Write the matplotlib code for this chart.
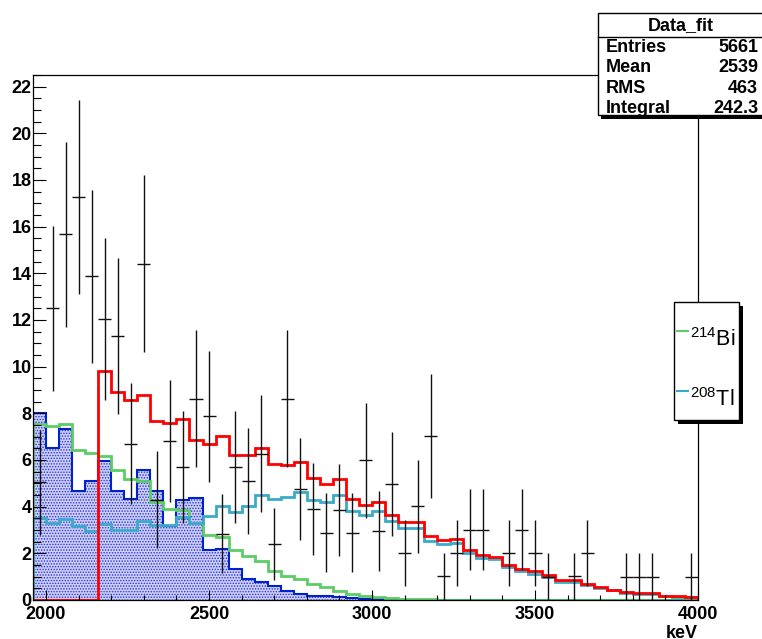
import numpy as np
import matplotlib
matplotlib.use("Agg")
import matplotlib.pyplot as plt
from matplotlib.patches import Rectangle
from matplotlib.lines import Line2D
from matplotlib.ticker import MultipleLocator

plt.rcParams['font.family'] = ['Liberation Sans', 'DejaVu Sans']
plt.rcParams['font.weight'] = 'bold'
plt.rcParams['mathtext.default'] = 'regular'
plt.rcParams['hatch.linewidth'] = 0.7

# binning: 40 keV bins from 1960 to 4000 keV
edges = np.arange(1960, 4001, 40)

# measured counts per bin (0 = empty bin)
data = [5.05, 12.5, 15.67, 17.28, 13.87, 12.04, 11.31, 6.7, 14.41, 4.3,
        6.83, 5.69, 8.62, 7.87, 2.84, 5.69, 5.1, 6.27, 2.4, 8.62,
        4.75, 3.9, 2.88, 3.87, 2.88, 5.98, 2.97, 4.98, 2.0, 4.02,
        7.02, 1.02, 2.0, 3.02, 3.02, 0, 2.0, 3.02, 2.02, 1.0,
        0, 1.02, 2.02, 0, 0, 1.0, 1.0, 1.0, 0, 0, 1.0]
data_err = [2.25, 3.54, 3.96, 4.16, 3.72, 3.47, 3.36, 2.59, 3.8, 2.07,
            2.61, 2.39, 2.94, 2.81, 1.69, 2.39, 2.26, 2.5, 1.55, 2.94,
            2.18, 1.97, 1.7, 1.97, 1.7, 2.45, 1.72, 2.23, 1.41, 2.0,
            2.65, 1.01, 1.41, 1.74, 1.74, 0, 1.41, 1.74, 1.42, 1.0,
            0, 1.01, 1.42, 0, 0, 1.0, 1.0, 1.0, 0, 0, 1.0]

# fit total (red)
fit_total = [0, 0, 0, 0, 0, 9.80, 8.93, 8.56, 8.80, 7.66,
             7.59, 7.76, 6.85, 6.70, 7.05, 6.23, 6.23, 6.52, 5.85, 5.80,
             5.93, 5.25, 4.99, 5.20, 4.35, 4.07, 4.20, 3.66, 3.35, 3.33,
             2.73, 2.56, 2.60, 2.13, 1.91, 1.85, 1.52, 1.34, 1.23, 1.06,
             0.85, 0.85, 0.68, 0.55, 0.44, 0.36, 0.31, 0.28, 0.19, 0.16, 0.13]

# 214Bi component (green)
bi214 = [7.56, 7.47, 7.56, 6.42, 6.30, 6.16, 5.56, 5.20, 5.09, 4.19,
         3.92, 3.85, 3.32, 2.77, 2.72, 2.14, 1.88, 1.68, 1.23, 1.05,
         0.88, 0.68, 0.55, 0.37, 0.26, 0.17, 0.12, 0.08, 0.05, 0.04,
         0.03, 0.02, 0.01, 0, 0, 0, 0, 0, 0, 0,
         0, 0, 0, 0, 0, 0, 0, 0, 0, 0, 0]

# 208Tl component (cyan)
tl208 = [3.52, 3.31, 3.48, 3.16, 2.95, 3.26, 3.02, 3.02, 3.38, 3.2,
         3.2, 3.55, 3.31, 3.6, 4.02, 3.76, 4.03, 4.5, 4.32, 4.42,
         4.63, 4.30, 4.2, 4.5, 3.80, 3.66, 3.80, 3.38, 3.09, 3.07,
         2.52, 2.40, 2.43, 2.0, 1.79, 1.74, 1.40, 1.23, 1.13, 0.99,
         0.78, 0.78, 0.64, 0.52, 0.42, 0.31, 0.27, 0.26, 0.16, 0.14, 0.11]

# low energy background (blue, filled)
bkg = [8.0, 6.52, 7.33, 4.69, 5.12, 5.95, 4.69, 4.33, 5.56, 4.66,
       3.16, 4.30, 4.38, 2.14, 2.18, 1.33, 0.90, 0.78, 0.59, 0.38,
       0.24, 0.16, 0.16, 0.12, 0.10, 0.05, 0.04, 0.03, 0.02, 0,
       0, 0, 0, 0, 0, 0, 0, 0, 0, 0,
       0, 0, 0, 0, 0, 0, 0, 0, 0, 0, 0]

stats_labels = ["Entries", "Mean", "RMS", "Integral"]
stats_values = ["5661", "2539", "463", "242.3"]

W, H = 762, 639
fig = plt.figure(figsize=(W / 100, H / 100), dpi=100)
ax = fig.add_axes([33 / W, 1 - 600 / H, 665 / W, 525 / H])

ax.stairs(bkg, edges, fill=True, facecolor='#cfcff6', edgecolor='#2233dd',
          hatch='......', linewidth=0)
ax.stairs(bkg, edges, color='#0022cc', linewidth=1.5)
ax.stairs(bi214, edges, color='#5ccc66', linewidth=2.0)
ax.stairs(tl208, edges, color='#3aaac8', linewidth=2.0)
ax.stairs(fit_total, edges, color='#ff0000', linewidth=2.0)

data = np.array(data)
data_err = np.array(data_err)
centers = (edges[:-1] + edges[1:]) / 2
m = data > 0
ax.errorbar(centers[m], data[m], yerr=data_err[m], xerr=20, fmt='none',
            ecolor='#111111', elinewidth=1.0, capsize=0)

ax.set_xlim(1960, 4000)
ax.set_ylim(0, 22.5)
ax.xaxis.set_major_locator(MultipleLocator(500))
ax.xaxis.set_minor_locator(MultipleLocator(100))
ax.yaxis.set_major_locator(MultipleLocator(2))
ax.yaxis.set_minor_locator(MultipleLocator(0.5))
ax.tick_params(which='both', direction='in', top=False, right=False, width=0.8)
ax.tick_params(axis='y', which='major', length=9.5, pad=1, labelsize=13)
ax.tick_params(axis='y', which='minor', length=5.5)
ax.tick_params(axis='x', which='major', length=7, pad=4, labelsize=13)
ax.tick_params(axis='x', which='minor', length=3.5)
for s in ax.spines.values():
    s.set_linewidth(0.9)
ax.set_xlabel('keV', loc='right', fontsize=13, fontweight='bold', labelpad=2)


def fx(x):
    return x / W


def fy(y):
    return 1 - y / H


# stats box (top right)
fig.add_artist(Rectangle((fx(601), fy(118.5)), fx(170), 4 / H, transform=fig.transFigure,
                         facecolor='black', edgecolor='none', clip_on=False))
fig.add_artist(Rectangle((fx(598), fy(115)), fx(170), 102 / H, transform=fig.transFigure,
                         facecolor='white', edgecolor='black', linewidth=1.0, clip_on=False))
fig.add_artist(Line2D([fx(598), fx(762)], [fy(36.5), fy(36.5)], transform=fig.transFigure,
                      color='black', linewidth=1.0))
fig.text(fx(681), fy(26), "Data_fit", ha='center', va='center', fontsize=13, fontweight='bold')
for i, (lab, val) in enumerate(zip(stats_labels, stats_values)):
    yy = fy(47.5 + 20.3 * i)
    fig.text(fx(606), yy, lab, ha='left', va='center', fontsize=13, fontweight='bold')
    fig.text(fx(758), yy, val, ha='right', va='center', fontsize=13, fontweight='bold')

# legend box
fig.add_artist(Rectangle((fx(678), fy(424)), 65 / W, 118 / H, transform=fig.transFigure,
                         facecolor='black', edgecolor='none', clip_on=False))
fig.add_artist(Rectangle((fx(674), fy(420)), 65 / W, 118 / H, transform=fig.transFigure,
                         facecolor='white', edgecolor='black', linewidth=1.0, clip_on=False))
legend_items = [(r"$^{214}$Bi", '#5ccc66', 331, 346), (r"$^{208}$Tl", '#3aaac8', 391, 406)]
for txt, col, ly, by in legend_items:
    fig.add_artist(Line2D([fx(677), fx(688)], [fy(ly), fy(ly)], transform=fig.transFigure,
                          color=col, linewidth=1.5))
    fig.text(fx(690), fy(by), txt, ha='left', va='baseline', fontsize=15.5, fontweight='normal')

fig.savefig("out.png", dpi=100)
